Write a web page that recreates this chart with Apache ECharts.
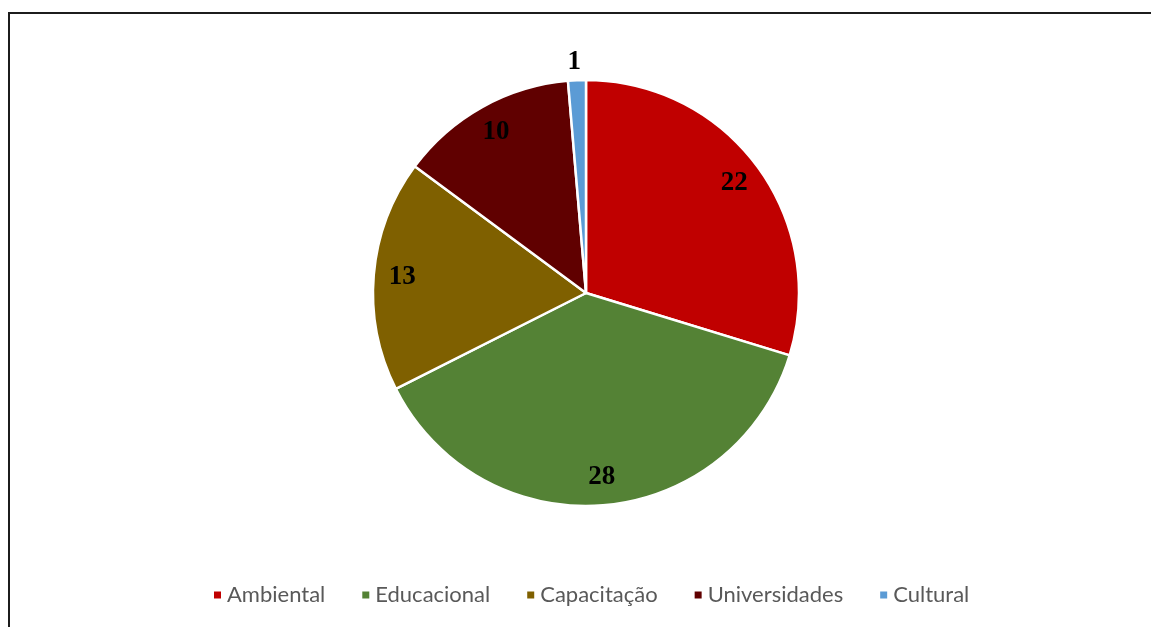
<!DOCTYPE html>
<html>
<head>
<meta charset="utf-8">
<script src="https://cdn.jsdelivr.net/npm/echarts@6/dist/echarts.min.js"></script>
<style>
  html, body { margin: 0; padding: 0; background: #fff; overflow: hidden; }
  #frame { position: absolute; left: 8px; top: 12px; width: 1200px; height: 700px;
           border: 2px solid #1c1c1c; box-sizing: border-box; }
  #chart { position: absolute; left: 0; top: 0; width: 1151px; height: 627px; }
</style>
</head>
<body>
<div id="frame"></div>
<div id="chart"></div>
<script>
// Categories and counts, clockwise from 12 o'clock
const categories = ['Ambiental', 'Educacional', 'Capacitação', 'Universidades', 'Cultural'];
const counts = [22, 28, 13, 10, 1];
const colors = ['#C00000', '#548235', '#7F6000', '#600000', '#5B9BD5'];

const center = [586, 293];
const radius = 213;

const chart = echarts.init(document.getElementById('chart'), null, { renderer: 'canvas' });

const sliceData = categories.map((name, i) => ({
  name: name,
  value: counts[i],
  itemStyle: { color: colors[i] }
}));

// Labels sit on a transparent ring so they land near the outer part of each slice
const labelData = categories.map((name, i) => {
  const item = { name: name, value: counts[i] };
  if (i === 4) item.label = { offset: [-4, -47] };
  return item;
});

chart.setOption({
  animation: false,
  color: colors,
  legend: {
    data: categories,
    left: 207,
    top: 579,
    icon: 'rect',
    itemWidth: 9,
    itemHeight: 9,
    itemGap: 35,
    textStyle: { fontFamily: 'Lato', fontSize: 22, color: '#595959' }
  },
  series: [
    {
      name: 'slices',
      type: 'pie',
      center: center,
      radius: radius,
      startAngle: 90,
      clockwise: true,
      silent: true,
      label: { show: false },
      labelLine: { show: false },
      itemStyle: { borderColor: '#ffffff', borderWidth: 2.5 },
      data: sliceData
    },
    {
      name: 'labels',
      type: 'pie',
      center: center,
      radius: [150, 213],
      startAngle: 90,
      clockwise: true,
      silent: true,
      legendHoverLink: false,
      itemStyle: { color: 'rgba(0,0,0,0)', borderWidth: 0 },
      label: {
        show: true,
        position: 'inside',
        formatter: '{c}',
        fontFamily: 'Liberation Serif',
        fontWeight: 'bold',
        fontSize: 27,
        color: '#000000'
      },
      labelLine: { show: false },
      data: labelData
    }
  ]
});
</script>
</body>
</html>
